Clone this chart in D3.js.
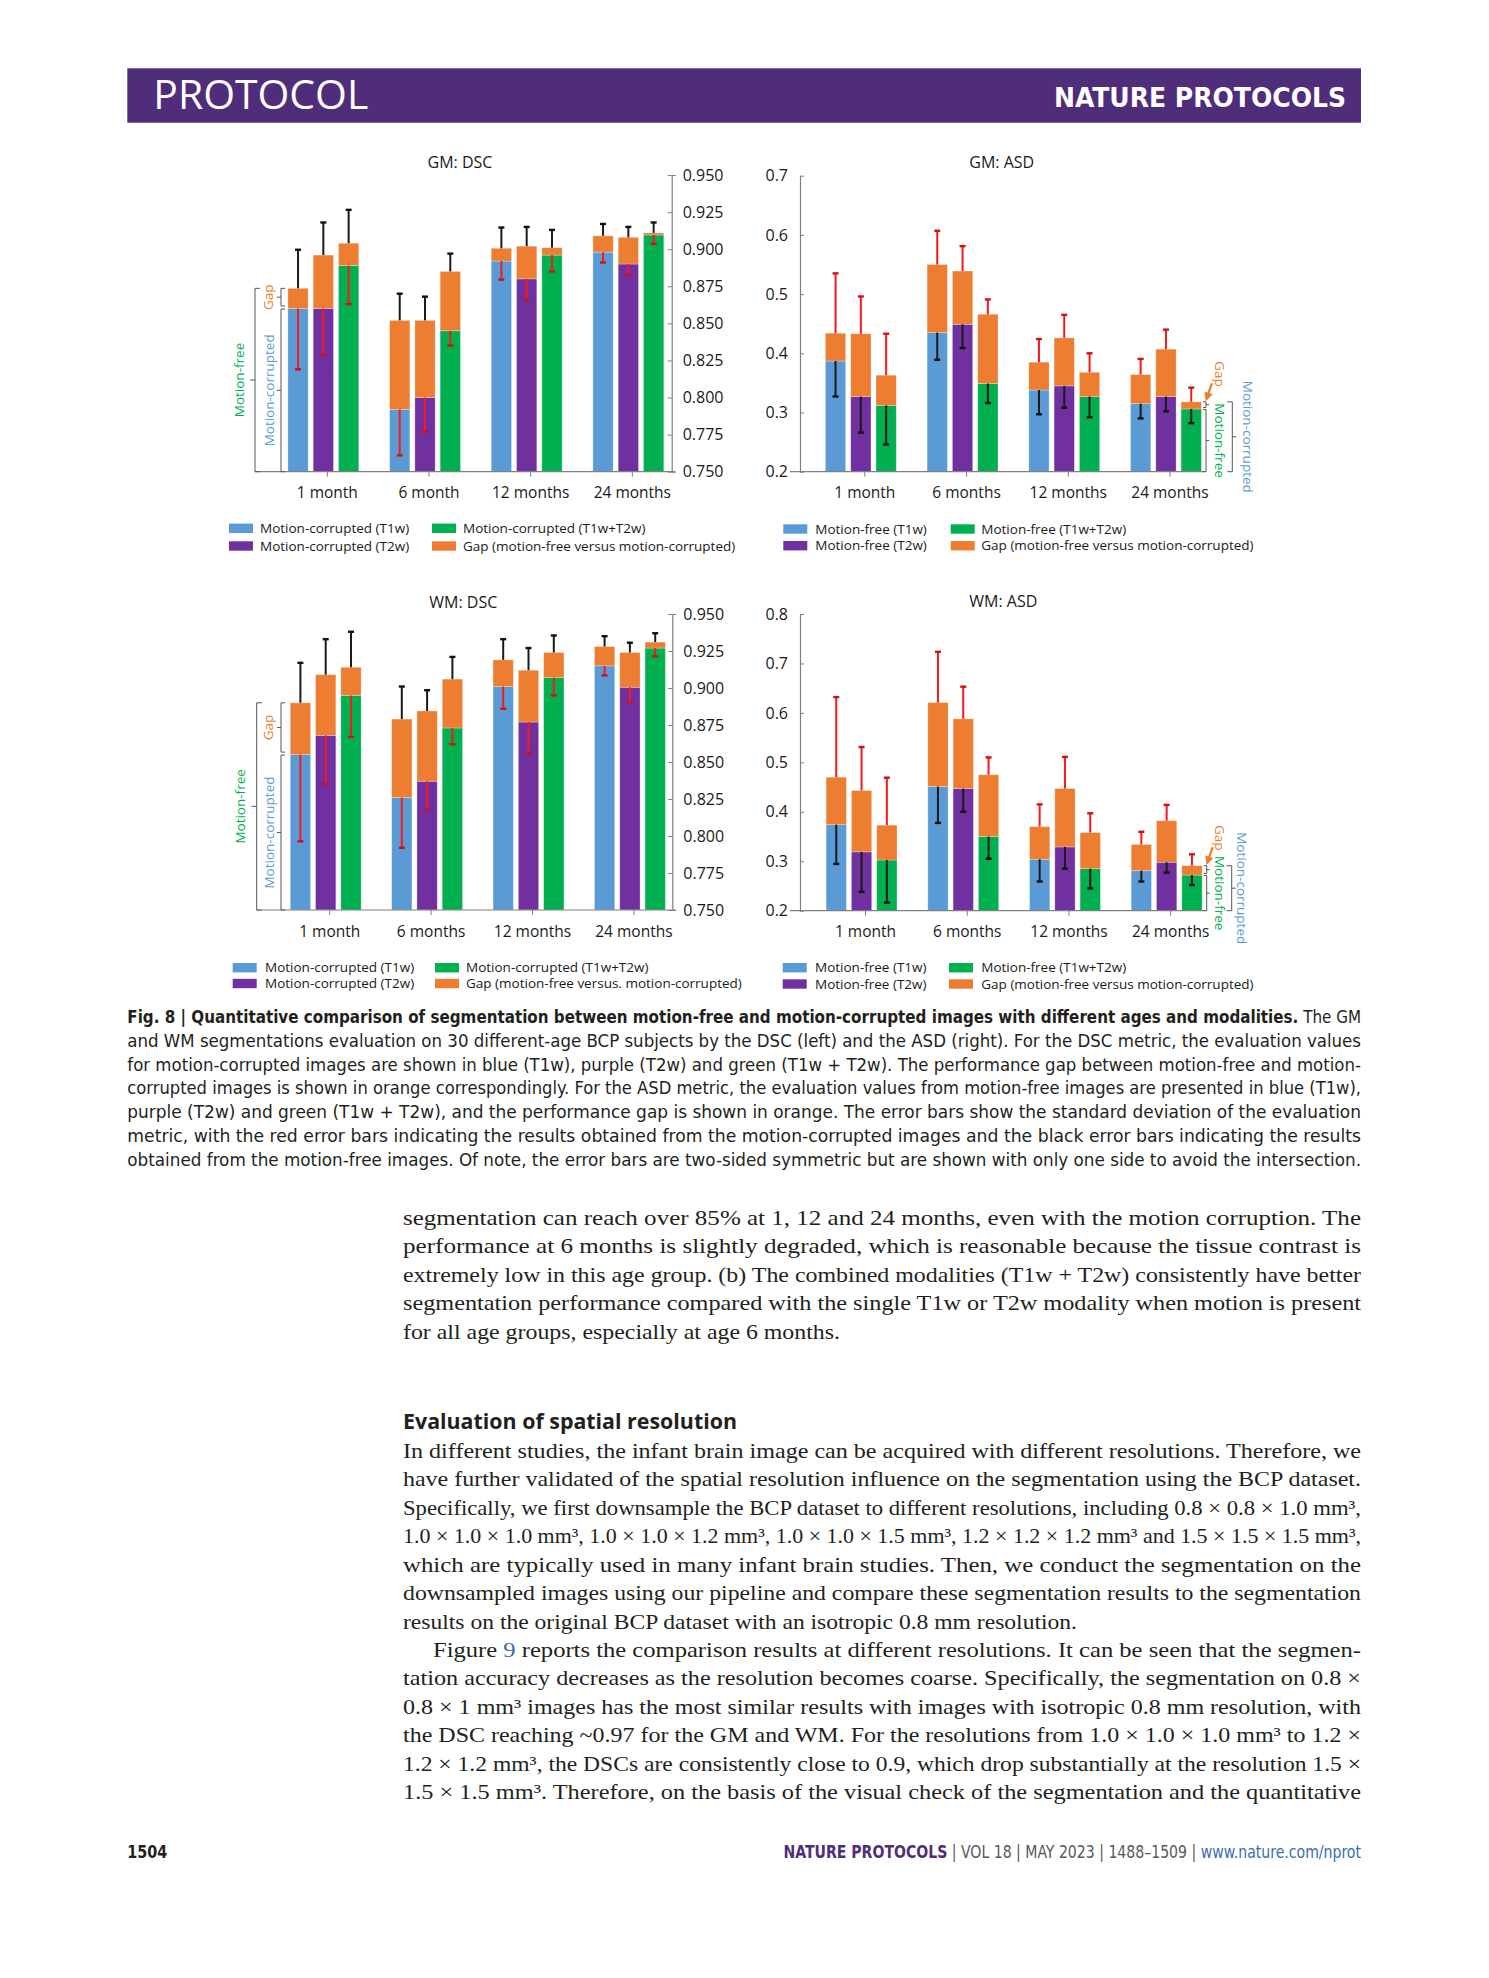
<!DOCTYPE html>
<html>
<head>
<meta charset="utf-8">
<script src="https://cdn.jsdelivr.net/npm/d3@7"></script>
<style>
  body { margin: 0; background: #fff; }
  svg { display: block; }
</style>
</head>
<body>
<div id="page"></div>
<script>
// ---- chart data ----
const groupsGmDsc = ["1 month", "6 month", "12 months", "24 months"];
const groupsStd = ["1 month", "6 months", "12 months", "24 months"];
const modalities = ["T1w", "T2w", "T1w+T2w"];

// GM: DSC  (rows = age groups, cols = T1w, T2w, T1w+T2w)
const gmDscCorrupted = [[0.860, 0.860, 0.889], [0.792, 0.800, 0.845], [0.892, 0.880, 0.896], [0.898, 0.890, 0.9096]];
const gmDscFree = [[0.8736, 0.896, 0.904], [0.852, 0.852, 0.885], [0.9006, 0.902, 0.901], [0.909, 0.908, 0.911]];
const gmDscFreeSd = [[0.026, 0.022, 0.0225], [0.018, 0.016, 0.012], [0.014, 0.013, 0.012], [0.008, 0.007, 0.007]];
const gmDscCorruptedSd = [[0.041, 0.031, 0.026], [0.031, 0.023, 0.010], [0.0125, 0.014, 0.011], [0.007, 0.007, 0.006]];

// GM: ASD
const gmAsdFree = [[0.387, 0.327, 0.312], [0.435, 0.449, 0.349], [0.338, 0.345, 0.327], [0.315, 0.327, 0.306]];
const gmAsdCorrupted = [[0.434, 0.433, 0.363], [0.550, 0.539, 0.466], [0.385, 0.426, 0.368], [0.364, 0.407, 0.318]];
const gmAsdFreeSd = [[0.060, 0.061, 0.066], [0.046, 0.040, 0.033], [0.041, 0.037, 0.035], [0.025, 0.025, 0.024]];
const gmAsdCorruptedSd = [[0.101, 0.063, 0.070], [0.057, 0.042, 0.025], [0.039, 0.039, 0.032], [0.0265, 0.033, 0.024]];

// WM: DSC
const wmDscCorrupted = [[0.855, 0.868, 0.895], [0.826, 0.837, 0.873], [0.901, 0.877, 0.907], [0.915, 0.9005, 0.927]];
const wmDscFree = [[0.890, 0.909, 0.914], [0.879, 0.8845, 0.906], [0.919, 0.912, 0.924], [0.928, 0.924, 0.931]];
const wmDscFreeSd = [[0.027, 0.024, 0.024], [0.022, 0.014, 0.015], [0.014, 0.015, 0.0115], [0.007, 0.0066, 0.006]];
const wmDscCorruptedSd = [[0.0586, 0.033, 0.028], [0.034, 0.019, 0.011], [0.015, 0.021, 0.012], [0.0065, 0.010, 0.0056]];

// WM: ASD
const wmAsdFree = [[0.374, 0.319, 0.3025], [0.451, 0.447, 0.350], [0.304, 0.329, 0.285], [0.281, 0.298, 0.272]];
const wmAsdCorrupted = [[0.470, 0.443, 0.373], [0.621, 0.588, 0.475], [0.370, 0.447, 0.358], [0.334, 0.382, 0.291]];
const wmAsdFreeSd = [[0.0795, 0.081, 0.086], [0.0735, 0.047, 0.045], [0.045, 0.044, 0.040], [0.022, 0.021, 0.020]];
const wmAsdCorruptedSd = [[0.162, 0.088, 0.096], [0.1025, 0.065, 0.035], [0.045, 0.064, 0.039], [0.0256, 0.032, 0.023]];

const dscTicks = [0.75, 0.775, 0.8, 0.825, 0.85, 0.875, 0.9, 0.925, 0.95];
const gmAsdTicks = [0.2, 0.3, 0.4, 0.5, 0.6, 0.7];
const wmAsdTicks = [0.2, 0.3, 0.4, 0.5, 0.6, 0.7, 0.8];

const gmDscLegend = ["Motion-corrupted (T1w)", "Motion-corrupted (T2w)", "Motion-corrupted (T1w+T2w)", "Gap (motion-free versus motion-corrupted)"];
const wmDscLegend = ["Motion-corrupted (T1w)", "Motion-corrupted (T2w)", "Motion-corrupted (T1w+T2w)", "Gap (motion-free versus. motion-corrupted)"];
const asdLegend = ["Motion-free (T1w)", "Motion-free (T2w)", "Motion-free (T1w+T2w)", "Gap (motion-free versus motion-corrupted)"];

const colors = ["#5b9bd5", "#7030a0", "#00b050", "#ed7d31"];
const RED = "#f5191c";
const BLACK = "#1a1a1a";
const AXIS = "#808080";
const CHART_FONT = "'Open Sans', 'DejaVu Sans', sans-serif";

// ---- page text ----
const captionLines = [
  [{ t: "Fig. 8 | Quantitative comparison of segmentation between motion-free and motion-corrupted images with different ages and modalities.", b: true }, { t: " The GM" }],
  [{ t: "and WM segmentations evaluation on 30 different-age BCP subjects by the DSC (left) and the ASD (right). For the DSC metric, the evaluation values" }],
  [{ t: "for motion-corrupted images are shown in blue (T1w), purple (T2w) and green (T1w + T2w). The performance gap between motion-free and motion-" }],
  [{ t: "corrupted images is shown in orange correspondingly. For the ASD metric, the evaluation values from motion-free images are presented in blue (T1w)," }],
  [{ t: "purple (T2w) and green (T1w + T2w), and the performance gap is shown in orange. The error bars show the standard deviation of the evaluation" }],
  [{ t: "metric, with the red error bars indicating the results obtained from the motion-corrupted images and the black error bars indicating the results" }],
  [{ t: "obtained from the motion-free images. Of note, the error bars are two-sided symmetric but are shown with only one side to avoid the intersection." }]
];

const paraA = [
  "segmentation can reach over 85% at 1, 12 and 24 months, even with the motion corruption. The",
  "performance at 6 months is slightly degraded, which is reasonable because the tissue contrast is",
  "extremely low in this age group. (b) The combined modalities (T1w + T2w) consistently have better",
  "segmentation performance compared with the single T1w or T2w modality when motion is present",
  "for all age groups, especially at age 6 months."
];

const paraB = [
  "In different studies, the infant brain image can be acquired with different resolutions. Therefore, we",
  "have further validated of the spatial resolution influence on the segmentation using the BCP dataset.",
  "Specifically, we first downsample the BCP dataset to different resolutions, including 0.8 × 0.8 × 1.0 mm³,",
  "1.0 × 1.0 × 1.0 mm³, 1.0 × 1.0 × 1.2 mm³, 1.0 × 1.0 × 1.5 mm³, 1.2 × 1.2 × 1.2 mm³ and 1.5 × 1.5 × 1.5 mm³,",
  "which are typically used in many infant brain studies. Then, we conduct the segmentation on the",
  "downsampled images using our pipeline and compare these segmentation results to the segmentation",
  "results on the original BCP dataset with an isotropic 0.8 mm resolution."
];

const paraC = [
  "reports the comparison results at different resolutions. It can be seen that the segmen-",
  "tation accuracy decreases as the resolution becomes coarse. Specifically, the segmentation on 0.8 ×",
  "0.8 × 1 mm³ images has the most similar results with images with isotropic 0.8 mm resolution, with",
  "the DSC reaching ~0.97 for the GM and WM. For the resolutions from 1.0 × 1.0 × 1.0 mm³ to 1.2 ×",
  "1.2 × 1.2 mm³, the DSCs are consistently close to 0.9, which drop substantially at the resolution 1.5 ×",
  "1.5 × 1.5 mm³. Therefore, on the basis of the visual check of the segmentation and the quantitative"
];

const W = 1489, H = 1978;
const LEFT = 127.3, RIGHT = 1361, BODY_LEFT = 403;

const svg = d3.select("#page").append("svg").attr("width", W).attr("height", H);
svg.append("rect").attr("width", W).attr("height", H).attr("fill", "#fff");

const defs = svg.append("defs");
defs.append("marker")
  .attr("id", "arrowhead")
  .attr("viewBox", "0 0 10 10")
  .attr("refX", 6).attr("refY", 5)
  .attr("markerWidth", 4).attr("markerHeight", 4)
  .attr("orient", "auto")
  .append("path").attr("d", "M0,0 L10,5 L0,10 z").attr("fill", colors[3]);

// small helper for one line of text, optionally stretched to a width
function textLine(g, x, y, segs, opts) {
  const t = g.append("text")
    .attr("x", x).attr("y", y)
    .attr("font-family", opts.font)
    .attr("font-size", opts.size)
    .attr("fill", opts.fill || "#231f20")
    .attr("xml:space", "preserve");
  if (opts.width) {
    t.attr("textLength", opts.width).attr("lengthAdjust", "spacingAndGlyphs");
  }
  segs.forEach((s) => {
    const ts = t.append("tspan").text(s.t);
    if (s.b) ts.attr("font-weight", 700);
    if (s.fill) ts.attr("fill", s.fill);
  });
  return t;
}

function bracket(g, x, ya, yb, endLen, midLen) {
  const mid = (ya + yb) / 2;
  g.append("path")
    .attr("d", `M${x + endLen},${ya}H${x}V${yb}H${x + endLen}M${x},${mid}H${x + midLen}`)
    .attr("fill", "none")
    .attr("stroke", "#555")
    .attr("stroke-width", 1);
  return mid;
}

function rotLabel(g, x, y, txt, color, angle) {
  g.append("text")
    .attr("transform", `translate(${x},${y}) rotate(${angle})`)
    .attr("text-anchor", "middle")
    .attr("dy", "0.35em")
    .attr("font-family", CHART_FONT)
    .attr("font-size", 13.5)
    .attr("fill", color)
    .text(txt);
}

function drawPanel(p) {
  const g = svg.append("g");
  const isDsc = p.kind === "dsc";

  const y = d3.scaleLinear().domain(p.domain).range([p.yBottom, p.yTop]);
  const x = d3.scaleBand().domain(p.groups).range([p.x0, p.x0 + p.step * p.groups.length]);
  const xs = d3.scaleBand().domain(modalities).range([-37.95, 37.95]).paddingInner(0.198).paddingOuter(0.099);
  const bw = xs.bandwidth();

  const rows = [];
  p.groups.forEach((grp, i) => {
    modalities.forEach((m, j) => {
      const corr = p.corrupted[i][j];
      const free = p.free[i][j];
      rows.push({
        grp, m, j, corr, free,
        low: isDsc ? corr : free,
        high: isDsc ? free : corr,
        corrSd: p.corrSd[i][j],
        freeSd: p.freeSd[i][j],
        cx: x(grp) + x.bandwidth() / 2 + xs(m) + bw / 2
      });
    });
  });

  // title
  g.append("text")
    .attr("x", p.titleX).attr("y", p.titleY)
    .attr("text-anchor", "middle")
    .attr("font-family", CHART_FONT)
    .attr("font-size", 16)
    .attr("fill", "#1a1a1a")
    .text(p.title);

  // stacked bars: coloured base + orange gap on top
  g.selectAll("rect.base").data(rows).join("rect")
    .attr("class", "base")
    .attr("x", (d) => d.cx - bw / 2)
    .attr("width", bw)
    .attr("y", (d) => y(d.low))
    .attr("height", (d) => p.yBottom - y(d.low))
    .attr("fill", (d) => colors[d.j])
    .attr("stroke", "#fff").attr("stroke-opacity", 0.35).attr("stroke-width", 0.8);

  g.selectAll("rect.gap").data(rows).join("rect")
    .attr("class", "gap")
    .attr("x", (d) => d.cx - bw / 2)
    .attr("width", bw)
    .attr("y", (d) => y(d.high))
    .attr("height", (d) => y(d.low) - y(d.high))
    .attr("fill", colors[3])
    .attr("stroke", "#fff").attr("stroke-opacity", 0.35).attr("stroke-width", 0.8);

  // one-sided error bars
  const errs = [];
  rows.forEach((d) => {
    errs.push({ cx: d.cx, from: d.corr, to: isDsc ? d.corr - d.corrSd : d.corr + d.corrSd, color: RED });
    errs.push({ cx: d.cx, from: d.free, to: isDsc ? d.free + d.freeSd : d.free - d.freeSd, color: BLACK });
  });
  g.selectAll("line.err").data(errs).join("line")
    .attr("class", "err")
    .attr("x1", (d) => d.cx).attr("x2", (d) => d.cx)
    .attr("y1", (d) => y(d.from)).attr("y2", (d) => y(d.to))
    .attr("stroke", (d) => d.color)
    .attr("stroke-width", 2);
  g.selectAll("line.cap").data(errs).join("line")
    .attr("class", "cap")
    .attr("x1", (d) => d.cx - 3).attr("x2", (d) => d.cx + 3)
    .attr("y1", (d) => y(d.to)).attr("y2", (d) => y(d.to))
    .attr("stroke", (d) => (d.color === RED ? "#d40f14" : "#111"))
    .attr("stroke-width", 2.4);

  // value axis
  const axis = isDsc
    ? d3.axisRight(y).tickValues(p.ticks).tickFormat(d3.format(".3f")).tickSizeInner(-4).tickSizeOuter(4).tickPadding(11)
    : d3.axisLeft(y).tickValues(p.ticks).tickFormat(d3.format(".1f")).tickSizeInner(-4).tickSizeOuter(0).tickPadding(12);
  const ax = g.append("g")
    .attr("transform", `translate(${p.axisX},0)`)
    .call(axis);
  ax.select(".domain").attr("stroke", AXIS).attr("stroke-width", 1.2);
  ax.selectAll(".tick line").attr("stroke", AXIS);
  ax.selectAll(".tick text")
    .attr("font-family", CHART_FONT)
    .attr("font-size", 16)
    .attr("fill", "#1a1a1a");

  // category baseline
  g.append("line")
    .attr("x1", p.baseFrom).attr("x2", p.baseTo)
    .attr("y1", p.yBottom).attr("y2", p.yBottom)
    .attr("stroke", AXIS).attr("stroke-width", 1.2);
  const shift = 4;
  g.selectAll("line.xtick").data(p.groups).join("line")
    .attr("class", "xtick")
    .attr("x1", (d) => x(d) + x.bandwidth() / 2 + shift)
    .attr("x2", (d) => x(d) + x.bandwidth() / 2 + shift)
    .attr("y1", p.yBottom).attr("y2", p.yBottom + 5)
    .attr("stroke", AXIS);
  g.selectAll("text.xlab").data(p.groups).join("text")
    .attr("class", "xlab")
    .attr("x", (d) => x(d) + x.bandwidth() / 2 + shift)
    .attr("y", p.labelY)
    .attr("text-anchor", "middle")
    .attr("font-family", CHART_FONT)
    .attr("font-size", 15.5)
    .attr("fill", "#1a1a1a")
    .text((d) => d);

  // legend (two rows, two columns)
  p.legend.labels.forEach((lab, i) => {
    const col = Math.floor(i / 2), row = i % 2;
    const ly = p.legend.y + row * p.legend.dy;
    g.append("rect")
      .attr("x", p.legend.sx[col]).attr("y", ly - 4.7)
      .attr("width", 24).attr("height", 9.4)
      .attr("fill", colors[i]);
    g.append("text")
      .attr("x", p.legend.tx[col]).attr("y", ly)
      .attr("dy", "0.35em")
      .attr("font-family", CHART_FONT)
      .attr("font-size", 13.5)
      .attr("fill", "#1a1a1a")
      .text(lab);
  });

  // bracket annotations
  const a = p.ann;
  if (isDsc) {
    const first = rows[0];
    const yFree = y(first.free), yCorr = y(first.corr);
    const mOuter = bracket(g, a.outerX, yFree, p.yBottom, 5, -5);
    const mGap = bracket(g, a.innerX, yFree, yCorr - 2.5, 4, -4);
    const mCorr = bracket(g, a.innerX, yCorr + 0.5, p.yBottom, 4, -4);
    rotLabel(g, a.freeTextX, mOuter, "Motion-free", colors[2], -90);
    rotLabel(g, a.innerTextX, mGap, "Gap", colors[3], -90);
    rotLabel(g, a.innerTextX + 1.5, mCorr, "Motion-corrupted", colors[0], -90);
  } else {
    const last = rows[rows.length - 1];
    const yFree = y(last.free), yCorr = y(last.corr);
    const barRight = last.cx + bw / 2;
    bracket(g, a.innerX, yCorr, yFree - 1.5, -3, 3);
    const mFree = bracket(g, a.innerX, yFree + 0.5, p.yBottom, -3, 3);
    const mOuter = bracket(g, a.outerX, yCorr, p.yBottom, -5, 4);
    g.append("line")
      .attr("x1", barRight + 10.5).attr("y1", yCorr - 18.5)
      .attr("x2", barRight + 5.5).attr("y2", yCorr - 4)
      .attr("stroke", colors[3]).attr("stroke-width", 2.2)
      .attr("marker-end", "url(#arrowhead)");
    rotLabel(g, a.freeTextX, yCorr - 28, "Gap", colors[3], 90);
    rotLabel(g, a.freeTextX, mFree, "Motion-free", colors[2], 90);
    rotLabel(g, a.corrTextX, mOuter, "Motion-corrupted", colors[0], 90);
  }
}

const panels = [
  {
    kind: "dsc", title: "GM: DSC", titleX: 460, titleY: 168,
    groups: groupsGmDsc, corrupted: gmDscCorrupted, free: gmDscFree,
    corrSd: gmDscCorruptedSd, freeSd: gmDscFreeSd,
    domain: [0.75, 0.95], ticks: dscTicks, yBottom: 471.7, yTop: 175,
    x0: 272.5, step: 101.67, axisX: 671.7, baseFrom: 255, baseTo: 675, labelY: 497.5,
    legend: { labels: gmDscLegend, y: 528.3, dy: 17.7, sx: [229, 432], tx: [260, 463] },
    ann: { outerX: 255, innerX: 281, freeTextX: 239.5, innerTextX: 268 }
  },
  {
    kind: "asd", title: "GM: ASD", titleX: 1001.7, titleY: 168,
    groups: groupsStd, corrupted: gmAsdCorrupted, free: gmAsdFree,
    corrSd: gmAsdCorruptedSd, freeSd: gmAsdFreeSd,
    domain: [0.2, 0.7], ticks: gmAsdTicks, yBottom: 471.7, yTop: 175.7,
    x0: 810, step: 101.7, axisX: 800, baseFrom: 790, baseTo: 1205, labelY: 497.5,
    legend: { labels: asdLegend, y: 529, dy: 16.7, sx: [783.3, 950.7], tx: [815.3, 981.3] },
    ann: { innerX: 1206, outerX: 1232.3, freeTextX: 1219.5, corrTextX: 1247.7 }
  },
  {
    kind: "dsc", title: "WM: DSC", titleX: 463.3, titleY: 607.5,
    groups: groupsStd, corrupted: wmDscCorrupted, free: wmDscFree,
    corrSd: wmDscCorruptedSd, freeSd: wmDscFreeSd,
    domain: [0.75, 0.95], ticks: dscTicks, yBottom: 910, yTop: 614,
    x0: 275, step: 101.4, axisX: 672.3, baseFrom: 256.7, baseTo: 676, labelY: 936.5,
    legend: { labels: wmDscLegend, y: 967.7, dy: 15.8, sx: [232.7, 435], tx: [265, 466] },
    ann: { outerX: 256.7, innerX: 281, freeTextX: 240, innerTextX: 268 }
  },
  {
    kind: "asd", title: "WM: ASD", titleX: 1003.3, titleY: 606.5,
    groups: groupsStd, corrupted: wmAsdCorrupted, free: wmAsdFree,
    corrSd: wmAsdCorruptedSd, freeSd: wmAsdFreeSd,
    domain: [0.2, 0.8], ticks: wmAsdTicks, yBottom: 910.7, yTop: 614,
    x0: 810.7, step: 101.7, axisX: 800, baseFrom: 790, baseTo: 1205, labelY: 936.5,
    legend: { labels: asdLegend, y: 967.7, dy: 16.3, sx: [782.7, 949], tx: [815, 981.3] },
    ann: { innerX: 1206.7, outerX: 1231.7, freeTextX: 1219.5, corrTextX: 1241.7 }
  }
];

panels.forEach(drawPanel);

// ---- page furniture ----
const page = svg.append("g");
const NARROW = "'Liberation Sans Narrow', 'DejaVu Sans Condensed', 'Liberation Sans', sans-serif";
const SERIF = "'Liberation Serif', 'DejaVu Serif', serif";

page.append("rect")
  .attr("x", LEFT).attr("y", 68.3)
  .attr("width", RIGHT - LEFT).attr("height", 54.4)
  .attr("fill", "#502d7a");
textLine(page, 153.3, 109.3, [{ t: "PROTOCOL" }], { font: "'Open Sans', sans-serif", size: 41, fill: "#fff", width: 215 });
textLine(page, 1054, 107.3, [{ t: "NATURE PROTOCOLS", b: true }], { font: NARROW, size: 27, fill: "#fff", width: 292 });

// caption
captionLines.forEach((segs, i) => {
  textLine(page, LEFT, 1023.3 + i * 23.7, segs, { font: NARROW, size: 18, width: RIGHT - LEFT });
});

// body text
const bodyStep = 28.42;
paraA.forEach((line, i) => {
  const last = i === paraA.length - 1;
  textLine(page, BODY_LEFT, 1225 + i * bodyStep, [{ t: line }], { font: SERIF, size: 21, width: last ? 437 : RIGHT - BODY_LEFT });
});

textLine(page, BODY_LEFT, 1428.5, [{ t: "Evaluation of spatial resolution", b: true }], { font: "'Open Sans', 'Liberation Sans', sans-serif", size: 21, width: 334 });

paraB.forEach((line, i) => {
  const last = i === paraB.length - 1;
  textLine(page, BODY_LEFT, 1458 + i * bodyStep, [{ t: line }], { font: SERIF, size: 21, width: last ? 674 : RIGHT - BODY_LEFT });
});

paraC.forEach((line, i) => {
  const yy = 1458 + (paraB.length + i) * bodyStep;
  if (i === 0) {
    textLine(page, 433, yy, [{ t: "Figure " }, { t: "9", fill: "#3a6db5" }, { t: " " + line }], { font: SERIF, size: 21, width: RIGHT - 433 });
  } else {
    textLine(page, BODY_LEFT, yy, [{ t: line }], { font: SERIF, size: 21, width: RIGHT - BODY_LEFT });
  }
});

// footer
textLine(page, LEFT, 1858, [{ t: "1504", b: true }], { font: NARROW, size: 18, fill: "#231f20", width: 40 });
textLine(page, 783.5, 1858, [
  { t: "NATURE PROTOCOLS", b: true, fill: "#502d7a" },
  { t: " | VOL 18 | MAY 2023 | 1488–1509 | ", fill: "#58595b" },
  { t: "www.nature.com/nprot", fill: "#3a6db5" }
], { font: NARROW, size: 17, width: RIGHT - 783.5 });
</script>
</body>
</html>
